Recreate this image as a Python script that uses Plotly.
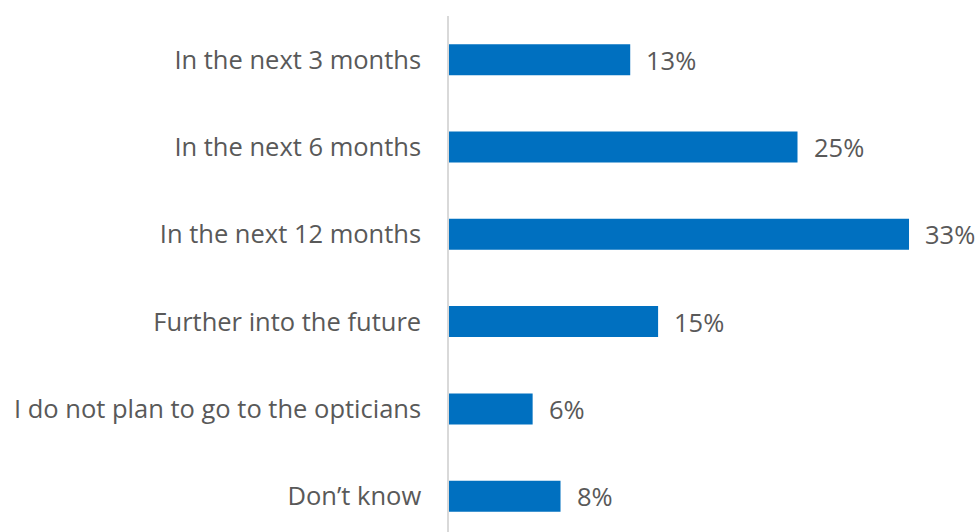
import plotly.graph_objects as go

categories = [
    "In the next 3 months",
    "In the next 6 months",
    "In the next 12 months",
    "Further into the future",
    "I do not plan to go to the opticians",
    "Don\u2019t know",
]
values = [13, 25, 33, 15, 6, 8]
value_labels = [f"{v}%" for v in values]

FONT = "Open Sans"
FONT_SIZE = 25.5
TEXT_COLOR = "#595959"
BAR_COLOR = "#0070C0"

fig = go.Figure(
    go.Bar(
        x=values,
        y=categories,
        orientation="h",
        marker=dict(color=BAR_COLOR, line=dict(width=0)),
        width=0.355,
        hoverinfo="skip",
    )
)

for cat, v, lab in zip(categories, values, value_labels):
    fig.add_annotation(
        x=v, y=cat, text=lab, showarrow=False,
        xanchor="left", yanchor="middle", xshift=14,
        font=dict(family=FONT, size=FONT_SIZE, color=TEXT_COLOR),
    )

fig.update_layout(
    width=980, height=532,
    margin=dict(l=449, r=0, t=16, b=0),
    paper_bgcolor="white", plot_bgcolor="white",
    showlegend=False,
    font=dict(family=FONT, size=FONT_SIZE, color=TEXT_COLOR),
    xaxis=dict(range=[0, 531 / 13.94], visible=False, fixedrange=True),
    yaxis=dict(
        type="category",
        categoryorder="array", categoryarray=categories,
        range=[5.41, -0.5],
        showline=True, linecolor="#D9D9D9", linewidth=1.5,
        showgrid=False, zeroline=False, ticks="",
        ticklabelstandoff=21,
        tickfont=dict(family=FONT, size=FONT_SIZE, color=TEXT_COLOR),
        fixedrange=True,
    ),
)

fig.write_html("out.html")
